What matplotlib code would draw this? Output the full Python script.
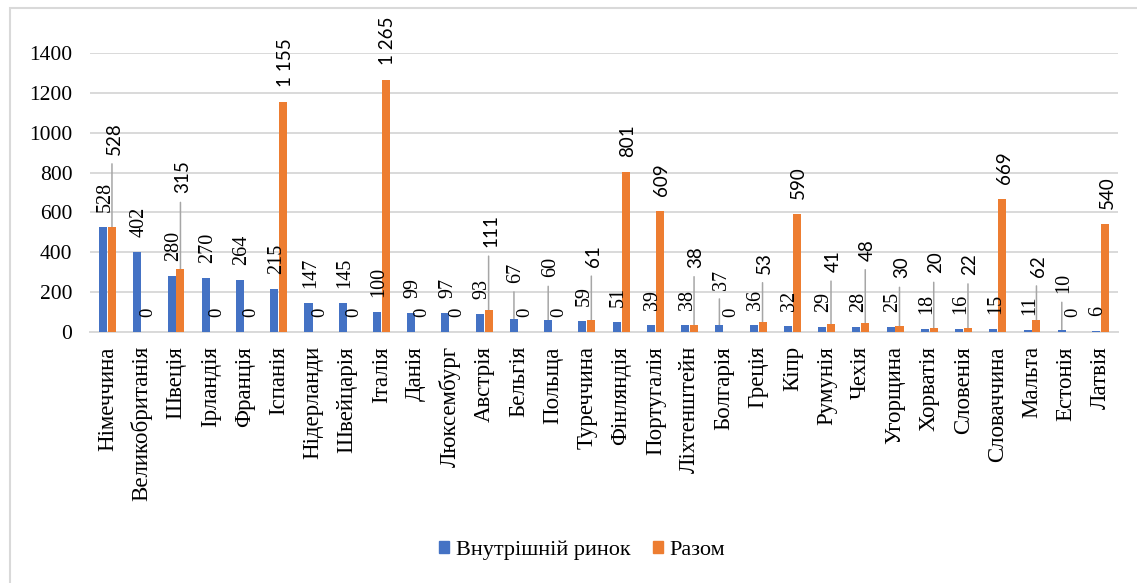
import matplotlib.pyplot as plt
import numpy as np
from matplotlib.patches import Rectangle
from matplotlib.patches import Patch

plt.rcParams['font.family'] = ['Liberation Serif', 'DejaVu Serif']

countries = ['Німеччина', 'Великобританія', 'Швеція', 'Ірландія', 'Франція', 'Іспанія',
             'Нідерланди', 'Швейцарія', 'Італія', 'Данія', 'Люксембург', 'Австрія',
             'Бельгія', 'Польща', 'Туреччина', 'Фінляндія', 'Португалія', 'Ліхтенштейн',
             'Болгарія', 'Греція', 'Кіпр', 'Румунія', 'Чехія', 'Угорщина', 'Хорватія',
             'Словенія', 'Словаччина', 'Мальта', 'Естонія', 'Латвія']
domestic = [528, 402, 280, 270, 264, 215, 147, 145, 100, 99, 97, 93, 67, 60, 59, 51,
            39, 38, 37, 36, 32, 29, 28, 25, 18, 16, 15, 11, 10, 6]
total = [528, 0, 315, 0, 0, 1155, 0, 0, 1265, 0, 0, 111, 0, 0, 61, 801,
         609, 38, 0, 53, 590, 41, 48, 30, 20, 22, 669, 62, 0, 540]
series_names = ['Внутрішній ринок', 'Разом']

# extra lift (px) of labels that were dragged up in the original, with leader lines
domestic_lift = [0] * 12 + [21, 28] + [0] * 4 + [20] + [0] * 9 + [22, 0]
total_lift = [57, 0, 61, 0, 0, 0, 0, 0, 0, 0, 0, 48, 0, 0, 38, 0, 0, 42, 0,
              33, 0, 37, 47, 33, 40, 38, 0, 28, 0, 0]

BLUE = '#4472C4'
ORANGE = '#ED7D31'
GRID = '#d9d9d9'
LEADER = '#a6a6a6'

W, H = 1137, 583
fig = plt.figure(figsize=(W / 100, H / 100), dpi=100)
ax = fig.add_axes([90.4 / W, 1 - 332.3 / H, (1117.6 - 90.4) / W, (332.3 - 52.7) / H])

x = np.arange(len(countries))
off, bw = 0.13, 0.235
ax.bar(x - off, domestic, bw, color=BLUE, zorder=3)
ax.bar(x + off, total, bw, color=ORANGE, zorder=3)

ax.set_xlim(-0.5, len(countries) - 0.5)
ax.set_ylim(0, 1400)
ax.set_yticks(range(0, 1401, 200))
ax.yaxis.grid(True, color=GRID, lw=1.4, zorder=0)
ax.axhline(0, color=GRID, lw=1.4, clip_on=False, zorder=1)
for s in ax.spines.values():
    s.set_visible(False)
ax.tick_params(length=0)
ax.tick_params(axis='y', labelsize=15.5, pad=13)
ax.set_xticks(x)
ax.set_xticklabels(countries, rotation=90, fontsize=16.5)
ax.tick_params(axis='x', pad=10)


def fmt(v):
    return f'{v:,}'.replace(',', ' ')


def put_labels(xs, vals, lifts, family, size):
    for xi, v, lift in zip(xs, vals, lifts):
        fam = family if v != 0 else 'Liberation Serif'
        ax.annotate(fmt(v), xy=(xi, v), xytext=(2, 15 + lift), textcoords='offset pixels',
                    rotation=90, ha='center', va='bottom', fontsize=size,
                    family=fam, annotation_clip=False, zorder=4)
        if lift:
            ax.annotate('', xy=(xi, v), xytext=(0, 15 + lift - 9), textcoords='offset pixels',
                        arrowprops=dict(arrowstyle='-', color=LEADER, lw=1.1,
                                        shrinkA=0, shrinkB=0),
                        annotation_clip=False, zorder=2)


put_labels(x - off, domestic, domestic_lift, 'Liberation Serif', 14.5)
put_labels(x + off, total, total_lift, 'Lato', 13.5)

handles = [Patch(color=BLUE, label=series_names[0]), Patch(color=ORANGE, label=series_names[1])]
fig.legend(handles=handles, loc='center', bbox_to_anchor=(0.512, 0.057), ncol=2,
           frameon=False, prop={'family': 'Liberation Serif', 'size': 16},
           handlelength=0.45, handleheight=0.45, handletextpad=0.3, columnspacing=1.0)

fig.add_artist(Rectangle((10 / W, -0.1), 1.2, 1 - 8 / H + 0.1, transform=fig.transFigure,
                         fill=False, edgecolor=GRID, lw=1.5))

fig.savefig('out.png', dpi=100)
